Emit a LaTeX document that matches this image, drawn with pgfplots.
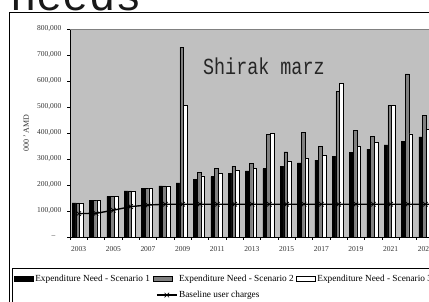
\documentclass[border=0pt]{standalone}
\usepackage{fontspec}
\setmainfont{Liberation Serif}
\newfontfamily\monofont{Liberation Mono}
\usepackage{pgfplots}
\pgfplotsset{compat=1.18}
\definecolor{plotbg}{HTML}{C0C0C0}
\definecolor{bargray}{HTML}{808080}
\pgfplotsset{
  rectlegend/.style={legend image code/.code={\draw[##1] (0pt,-2.5pt) rectangle (19pt,2.5pt);}},
  linelegend/.style={legend image code/.code={\draw[mark repeat=2,mark phase=2,##1] plot coordinates {(4pt,0pt) (14pt,0pt) (24pt,0pt)};}},
}
\begin{document}
\begin{tikzpicture}[x=1pt,y=1pt]
\useasboundingbox (0,0) rectangle (429,302);
\clip (0,0) rectangle (429,302);
\node[anchor=base west, inner sep=0pt, font=\monofont\fontsize{44}{44}\selectfont, text=black!90] at (10,291) {needs};
\draw[line width=0.8pt] (9.5,290) rectangle (520,-30);
\begin{axis}[
  at={(70pt,65pt)}, anchor=south west, scale only axis, width=416pt, height=208pt,
  xmin=2002.5, xmax=2026.5, ymin=0, ymax=800000,
  axis lines*=left, axis line style={-, black, line width=0.7pt},
  axis background/.style={fill=plotbg},
  clip=false,
  tick align=outside, major tick length=3pt, minor tick length=3pt,
  tick style={black, line width=0.6pt},
  every major x tick/.append style={draw=none},
  xtick={2003,2005,...,2023},
  xticklabels={2003,2005,2007,2009,2011,2013,2015,2017,2019,2021,2023},
  minor xtick={2002.5,2003.5,...,2026.5},
  ytick={0,100000,...,800000},
  yticklabels={{--\hspace*{6pt}},{100,000},{200,000},{300,000},{400,000},{500,000},{600,000},{700,000},{800,000}},
  scaled y ticks=false,
  ticklabel style={font=\fontsize{7.5}{8}\selectfont, text=black!80},
  yticklabel style={xshift=-2pt},
  xticklabel style={yshift=-3pt},
  ylabel={000 ' AMD},
  ylabel style={at={(axis description cs:-0.105,0.5)}, anchor=center, font=\fontsize{8}{9}\selectfont, text=black!80},
  legend columns=3,
  legend cell align=left,
  legend style={at={(axis description cs:-0.1394,-0.149)}, anchor=north west, draw=black, line width=0.6pt,
    font=\fontsize{9.3}{10}\selectfont, inner xsep=2pt, inner ysep=5pt, row sep=5pt,
    nodes={inner sep=1.6pt},
    /tikz/every even column/.append style={column sep=1pt}},
]
\draw[color=bargray, line width=0.7pt] (rel axis cs:0,1) -- (rel axis cs:1,1);
\addplot[ybar, bar width=3.7pt, bar shift=-4.7pt, fill=black, draw=black, line width=0.4pt, rectlegend]
  coordinates {(2003,131000) (2004,141000) (2005,156000) (2006,177000) (2007,188000) (2008,197000) (2009,208000) (2010,222000) (2011,232000) (2012,244000) (2013,254000) (2014,263000) (2015,273000) (2016,285000) (2017,296000) (2018,310000) (2019,326000) (2020,338000) (2021,354000) (2022,369000) (2023,385000)};
\addlegendentry{Expenditure Need - Scenario 1}
\addplot[ybar, bar width=3.7pt, bar shift=-1pt, fill=bargray, draw=black, line width=0.4pt, rectlegend]
  coordinates {(2003,131000) (2004,141000) (2005,156000) (2006,177000) (2007,188000) (2008,197000) (2009,730000) (2010,249000) (2011,263000) (2012,273000) (2013,283000) (2014,394000) (2015,328000) (2016,403000) (2017,349000) (2018,560000) (2019,410000) (2020,387000) (2021,506000) (2022,627000) (2023,469000)};
\addlegendentry{Expenditure Need - Scenario 2}
\addplot[ybar, bar width=3.7pt, bar shift=2.7pt, fill=white, draw=black, line width=0.4pt, rectlegend]
  coordinates {(2003,131000) (2004,141000) (2005,156000) (2006,177000) (2007,188000) (2008,197000) (2009,506000) (2010,235000) (2011,244000) (2012,255000) (2013,265000) (2014,399000) (2015,290000) (2016,303000) (2017,315000) (2018,592000) (2019,349000) (2020,364000) (2021,506000) (2022,397000) (2023,415000)};
\addlegendentry{Expenditure Need - Scenario 3}
\addlegendimage{empty legend}
\addlegendentry{}
\addplot[sharp plot, black, line width=1.4pt, mark=x, mark size=3.2pt, mark options={line width=0.7pt}, linelegend]
  coordinates {(2003,90000) (2004,91000) (2005,103000) (2006,117000) (2007,123000) (2008,126000) (2009,126000) (2010,126000) (2011,126000) (2012,126000) (2013,126000) (2014,126000) (2015,126000) (2016,126000) (2017,126000) (2018,126000) (2019,126000) (2020,126000) (2021,126000) (2022,126000) (2023,126000) (2024,126000) (2025,126000)};
\addlegendentry{Baseline user charges}
\end{axis}
\node[anchor=base west, inner sep=0pt, xscale=0.8, font=\monofont\fontsize{23}{23}\selectfont, text=black!85] at (203,227) {Shirak marz};
\end{tikzpicture}
\end{document}
